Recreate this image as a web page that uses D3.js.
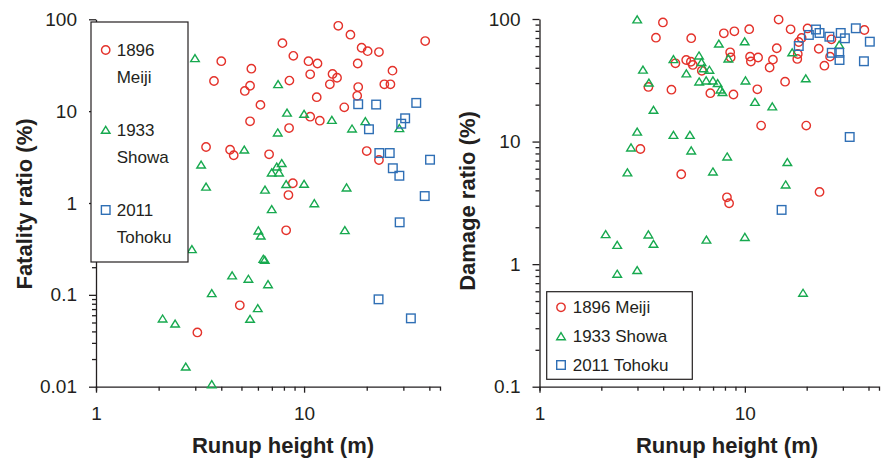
<!DOCTYPE html>
<html>
<head>
<meta charset="utf-8">
<script src="https://cdn.jsdelivr.net/npm/d3@7"></script>
<style>
body { margin: 0; background: #fff; }
svg { display: block; }
text { font-family: "Liberation Sans", Arial, sans-serif; fill: #231f20; }
</style>
</head>
<body>
<svg id="chart"></svg>
<script>
const W = 882;
const H = 460;

// each point: [runup height (m), ratio (%)]
const fatalMeiji = [[14.6,85],[16.7,68],[38.2,58],[7.87,55],[18.9,49],[20.2,45],[22.9,44],[8.88,40],[10.5,35],[11.6,33],[18.1,33],[4.0,35],[5.58,29],[26.6,27.6],[10.7,25.2],[13.7,25.4],[14.4,23.1],[3.69,21.3],[8.5,21.5],[13.3,19.6],[24.3,19.6],[26.0,19.6],[5.5,18.9],[5.19,16.6],[18.2,18.3],[18.0,14.7],[11.5,14.2],[6.17,11.7],[15.6,11.0],[10.7,8.7],[11.9,7.87],[5.5,7.75],[8.47,6.55],[3.38,4.07],[4.41,3.8],[4.59,3.31],[6.79,3.39],[20.0,3.68],[22.9,2.94],[8.83,1.64],[8.41,1.22],[8.2,0.504],[4.91,0.077],[3.07,0.039]];
const fatalShowa = [[2.99,37.6],[7.5,19.6],[8.28,9.6],[10.0,9.31],[13.6,8.0],[19.7,7.75],[17.0,6.44],[7.47,5.83],[28.7,6.5],[5.16,3.8],[3.2,2.61],[7.81,2.71],[7.39,2.48],[6.99,2.14],[7.58,2.14],[3.38,1.5],[6.49,1.39],[8.2,1.6],[10.0,1.61],[16.0,1.47],[6.99,0.854],[11.2,0.99],[6.03,0.5],[6.19,0.44],[15.7,0.504],[2.89,0.313],[6.37,0.246],[6.47,0.24],[4.51,0.162],[5.4,0.149],[6.71,0.13],[3.6,0.104],[5.99,0.0714],[2.09,0.055],[2.4,0.0485],[5.5,0.0546],[2.7,0.0165],[3.6,0.0106]];
const fatalTohoku = [[18.2,11.9],[22.2,11.8],[34.6,12.3],[30.6,8.36],[29.3,7.3],[20.5,6.35],[23.0,3.5],[25.8,3.5],[40.3,2.96],[26.7,2.39],[28.7,1.98],[38.0,1.19],[28.8,0.616],[22.8,0.0894],[32.6,0.0555]];

const damageMeiji = [[14.6,99],[3.99,93.7],[3.69,70.4],[5.48,69.7],[7.9,76.4],[8.89,79.4],[10.5,82.6],[16.7,82.4],[20.2,83.7],[38.2,81.3],[18.9,70],[18.3,64.9],[26.4,68.3],[14.3,57.7],[22.9,57.2],[8.48,53.5],[8.53,48.5],[10.6,49.3],[11.6,48.5],[10.7,45],[13.7,46.6],[18.1,51.8],[18.0,47.2],[26.0,49.3],[5.18,46.3],[4.59,43.5],[5.46,44.8],[5.58,42.2],[6.17,37.8],[13.2,40.2],[24.4,41.6],[15.7,30.8],[3.39,27.9],[4.39,26.5],[6.79,24.8],[8.8,24.2],[11.5,26.7],[12.0,13.5],[19.9,13.5],[3.1,8.7],[4.9,5.41],[23.1,3.88],[8.18,3.51],[8.38,3.14]];
const damageShowa = [[2.99,99],[7.47,62.8],[9.98,65.5],[28.8,61.6],[17.0,53.3],[4.49,46.9],[5.98,50.2],[8.31,47.5],[6.15,44.4],[3.19,38.5],[5.19,35.9],[6.29,39.5],[6.72,38.4],[3.41,30.2],[5.99,30.8],[6.48,31.4],[6.99,31.4],[7.37,29.9],[7.6,26.5],[7.78,25.3],[10.07,31.4],[19.8,32.7],[11.2,21.0],[13.6,19.3],[3.59,18.1],[2.99,12.0],[4.49,11.3],[5.4,11.3],[2.79,8.92],[5.48,8.43],[8.2,7.53],[16.1,6.78],[2.68,5.58],[6.99,5.68],[15.8,4.45],[2.1,1.75],[2.39,1.43],[3.39,1.74],[3.59,1.46],[6.5,1.58],[10.0,1.66],[2.39,0.832],[2.99,0.892],[19.2,0.582]];
const damageTohoku = [[22.2,82.1],[23.1,76.9],[20.5,74.1],[25.8,71.7],[29.3,76.9],[30.7,69.6],[34.7,84],[40.6,65.3],[18.3,60.2],[26.5,53],[28.8,53],[28.9,46.3],[38.0,45.2],[32.4,10.9],[15.1,2.77]];

const xMajor = [1, 10];
const xMajorLabels = ["1", "10"];
const fatalMajor = [0.01, 0.1, 1, 10, 100];
const fatalMajorLabels = ["0.01", "0.1", "1", "10", "100"];
const damageMajor = [0.1, 1, 10, 100];
const damageMajorLabels = ["0.1", "1", "10", "100"];

const seriesNames = ["1896 Meiji", "1933 Showa", "2011 Tohoku"];
const legendFirst = ["1896", "1933", "2011"];
const legendSecond = ["Meiji", "Showa", "Tohoku"];
const colors = ["#e4322b", "#17a94f", "#2f6fb5"];
const ink = "#231f20";

// minor ticks 1..9 in each decade up to the domain end
function logTicks(lo, hi) {
	let t = [];
	for (let d = lo; d < hi * 1.0001; d *= 10) {
		for (let m = 1; m <= 9; m++) {
			let v = +(d * m).toPrecision(3);
			if (v <= hi * 1.0001) t.push(v);
		}
	}
	return t;
}

function drawMarker(g, kind, color) {
	if (kind === 0) {
		g.append("circle").attr("r", 4.2)
			.attr("fill", "none").attr("stroke", color).attr("stroke-width", 1.4);
	} else if (kind === 1) {
		g.append("path").attr("d", "M0,-3.7L4.3,3.3L-4.3,3.3Z")
			.attr("fill", "none").attr("stroke", color).attr("stroke-width", 1.4);
	} else {
		g.append("rect").attr("x", -4.3).attr("y", -4.3).attr("width", 8.6).attr("height", 8.6)
			.attr("fill", "none").attr("stroke", color).attr("stroke-width", 1.4);
	}
}

function drawPanel(svg, p) {
	let x = d3.scaleLog().domain([1, 45]).range([p.x0, p.x1]);
	let y = d3.scaleLog().domain(p.yDomain).range([p.y0, p.y1]);
	let g = svg.append("g");

	let xAxis = d3.axisBottom(x)
		.tickValues(logTicks(1, 45))
		.tickSize(4).tickSizeOuter(4).tickPadding(16)
		.tickFormat(d => { let i = xMajor.indexOf(d); return i >= 0 ? xMajorLabels[i] : ""; });
	let gx = g.append("g").attr("transform", `translate(0,${p.y0})`).call(xAxis);
	gx.selectAll(".tick line").filter(d => xMajor.includes(d)).attr("y2", 6);

	let yAxis = d3.axisLeft(y)
		.tickValues(logTicks(p.yDomain[0], p.yDomain[1]))
		.tickSize(4).tickSizeOuter(0).tickPadding(15)
		.tickFormat(d => { let i = p.major.indexOf(d); return i >= 0 ? p.labels[i] : ""; });
	let gy = g.append("g").attr("transform", `translate(${p.x0},0)`).call(yAxis);
	gy.selectAll(".tick line").filter(d => p.major.includes(d)).attr("x2", -7);

	g.selectAll(".domain, .tick line").attr("stroke", ink).attr("stroke-width", 1.3);
	g.selectAll(".tick text").attr("font-size", 19).attr("fill", ink)
		.attr("font-family", "'Liberation Sans', Arial, sans-serif");

	g.append("text")
		.attr("transform", `translate(${p.yTitleX},${p.yTitleY}) rotate(-90)`)
		.attr("text-anchor", "middle").attr("font-size", 22).attr("font-weight", "bold")
		.text(p.yTitle);
	g.append("text")
		.attr("x", p.xTitleX).attr("y", 453)
		.attr("text-anchor", "middle").attr("font-size", 22).attr("font-weight", "bold")
		.text("Runup height (m)");

	p.series.forEach((data, k) => {
		g.append("g").selectAll("g").data(data).enter().append("g")
			.attr("transform", d => `translate(${x(d[0])},${y(d[1])})`)
			.each(function () { drawMarker(d3.select(this), k, colors[k]); });
	});
}

window.addEventListener("load", () => {
	let svg = d3.select("#chart").attr("width", W).attr("height", H);

	drawPanel(svg, {
		x0: 96, x1: 440, y0: 386.7, y1: 19.3,
		yDomain: [0.01, 100], major: fatalMajor, labels: fatalMajorLabels,
		yTitle: "Fatality ratio (%)", yTitleX: 32, yTitleY: 204, xTitleX: 283,
		series: [fatalMeiji, fatalShowa, fatalTohoku]
	});
	drawPanel(svg, {
		x0: 539.5, x1: 879, y0: 386.7, y1: 19,
		yDomain: [0.1, 100], major: damageMajor, labels: damageMajorLabels,
		yTitle: "Damage ratio (%)", yTitleX: 475, yTitleY: 201, xTitleX: 727,
		series: [damageMeiji, damageShowa, damageTohoku]
	});

	// left legend: two-line entries
	let lg = svg.append("g");
	lg.append("rect").attr("x", 91).attr("y", 22).attr("width", 97).attr("height", 240)
		.attr("fill", "#fff").attr("stroke", ink).attr("stroke-width", 1.2);
	[50, 130, 210].forEach((cy, k) => {
		drawMarker(lg.append("g").attr("transform", `translate(105.7,${cy})`), k, colors[k]);
		lg.append("text").attr("x", 116.7).attr("y", cy).attr("dy", "0.35em")
			.attr("font-size", 17).text(legendFirst[k]);
		lg.append("text").attr("x", 116.7).attr("y", cy + 27).attr("dy", "0.35em")
			.attr("font-size", 17).text(legendSecond[k]);
	});

	// right legend: one-line entries
	let rg = svg.append("g");
	rg.append("rect").attr("x", 546.7).attr("y", 291.7).attr("width", 145.6).attr("height", 87.6)
		.attr("fill", "#fff").attr("stroke", ink).attr("stroke-width", 1.2);
	[307.3, 336.4, 365].forEach((cy, k) => {
		drawMarker(rg.append("g").attr("transform", `translate(561,${cy})`), k, colors[k]);
		rg.append("text").attr("x", 572.7).attr("y", cy).attr("dy", "0.35em")
			.attr("font-size", 17).text(seriesNames[k]);
	});
});
</script>
</body>
</html>
